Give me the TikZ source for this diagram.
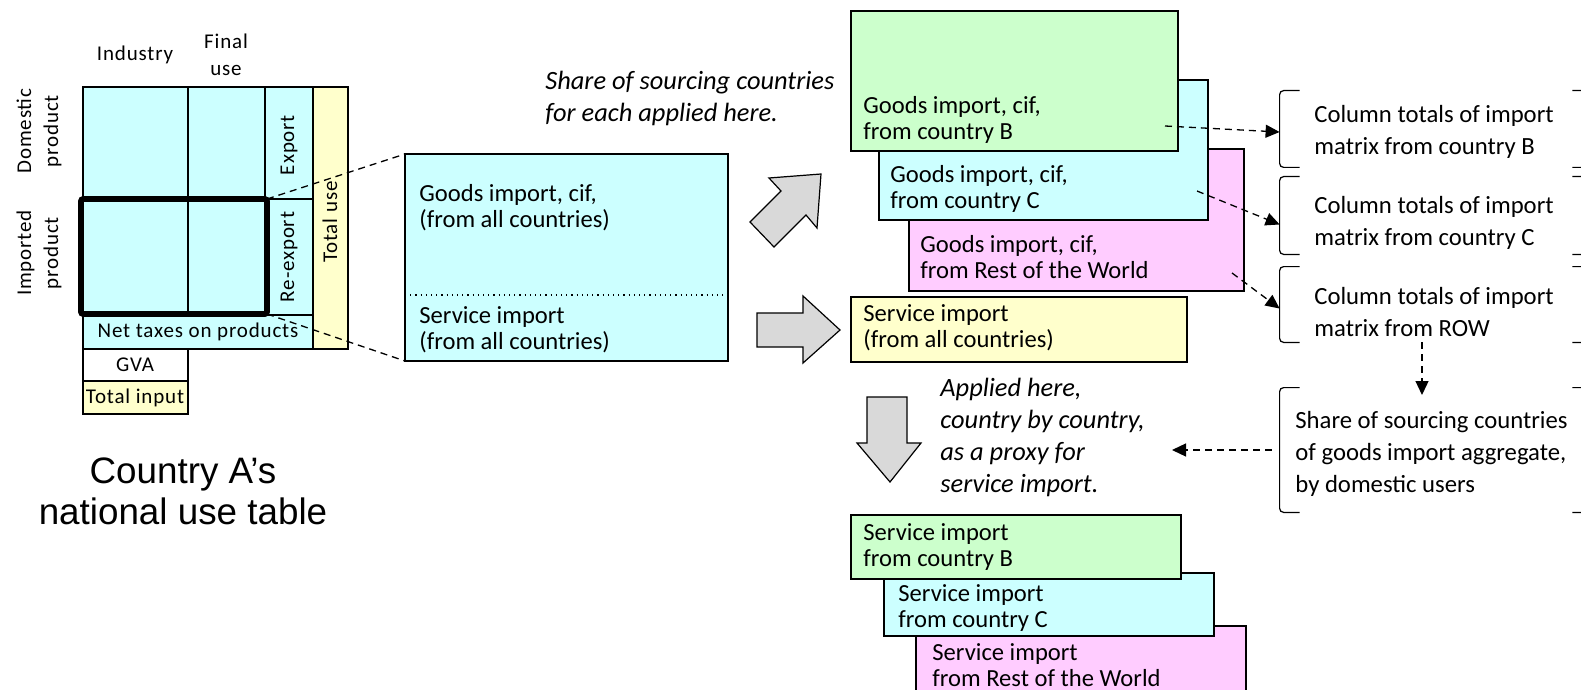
\documentclass[tikz,border=0pt]{standalone}
\usepackage{fontspec}
\setmainfont{Carlito}
\newfontfamily\capfont{Liberation Sans}
\newfontfamily\tabfont[LetterSpace=4]{Carlito}
\usetikzlibrary{arrows.meta, positioning, calc, fit}
\definecolor{cellcyan}{RGB}{204,255,255}
\definecolor{cellgreen}{RGB}{204,255,204}
\definecolor{cellpink}{RGB}{255,204,255}
\definecolor{cellyellow}{RGB}{255,255,204}
\definecolor{arrowgray}{RGB}{217,217,217}

\begin{document}
\begin{tikzpicture}[
    x=0.5pt, y=-0.5pt,
    >={Triangle[length=7pt, width=6.5pt]},
    block/.style={draw, line width=0.6pt, inner sep=0pt, outer sep=0pt},
    txt/.style={anchor=west, align=left, inner sep=0pt, font=\fontsize{12.3}{13}\selectfont},
    brtxt/.style={anchor=west, align=left, inner sep=0pt, font=\fontsize{12.35}{16}\selectfont},
    note/.style={anchor=west, align=left, inner sep=0pt, font=\fontsize{13.2}{16}\selectfont\itshape},
    tab/.style={inner sep=0pt, font=\fontsize{10.5}{13.5}\selectfont\tabfont},
    link/.style={dash pattern=on 3.5pt off 2.5pt, line width=0.65pt},
    bigarrow/.style={draw, fill=arrowgray, line width=0.6pt, line join=miter},
    brace/.style={line width=0.6pt, rounded corners=2pt},
]
    \useasboundingbox (0,0) rectangle (1581,690);
    \clip (0,0) rectangle (1581,690);

    % national use table
    \filldraw[fill=cellcyan, line width=0.6pt] (83,87) rectangle (313,349);
    \filldraw[fill=cellyellow, line width=0.6pt] (313,87) rectangle (348,349);
    \draw[line width=0.6pt] (188,87) -- (188,315) (265,87) -- (265,315)
        (83,199) -- (313,199) (83,315) -- (313,315);
    \draw[line width=0.6pt] (83,349) rectangle (188,381);
    \filldraw[fill=cellyellow, line width=0.6pt] (83,381) rectangle (188,414);
    \node[draw, line width=2.8pt, rounded corners=1pt, inner sep=0pt, outer sep=0pt,
        fit={(81,199) (267,314)}] (impBlock) {};

    \node[tab] (lInd) at (135,55) {Industry};
    \node[tab, align=center] (lFin) at (226,55) {Final\\use};
    \node[tab, align=center, rotate=90] (lDom) at (39,131) {Domestic\\product};
    \node[tab, align=center, rotate=90] (lImp) at (39,253) {Imported\\product};
    \node[tab, rotate=90] (lExp) at (289,145) {Export};
    \node[tab, rotate=90] (lReExp) at (289,257) {Re-export};
    \node[tab, rotate=90] (lTot) at (330,222) {Total use};
    \node[tab] (lTax) at (198,332) {Net taxes on products};
    \node[tab] (lGva) at (135,365) {GVA};
    \node[tab] (lTin) at (135,398) {Total input};
    \node[align=center, inner sep=0pt, font=\fontsize{18.4}{20.5}\selectfont\capfont]
        (caption) at (183,491) {Country A’s\\national use table};

    % imports from all countries
    \node[block, fill=cellcyan, fit={(405,154) (728,361)}] (allImp) {};
    \draw[dotted, line width=0.6pt] (405,295) -- (728,295);
    \node[txt] (tGoodsAll) at (419,208) {Goods import, cif,\\(from all countries)};
    \node[txt] (tServAll) at (419,330) {Service import\\(from all countries)};
    \draw[link] (impBlock.north east) -- (allImp.north west);
    \draw[link] (impBlock.south east) -- (allImp.south west);

    \node[note] (nShare) at (545,98) {Share of sourcing countries\\for each applied here.};

    % block arrows
    \filldraw[bigarrow] (750,222) -- (774,247) -- (806,215) -- (817,228) -- (821,174)
        -- (769,178) -- (781,191) -- cycle;
    \filldraw[bigarrow] (757,313) -- (803,313) -- (803,296) -- (840,330) -- (803,363)
        -- (803,347) -- (757,347) -- cycle;
    \filldraw[bigarrow] (867,397) -- (907,397) -- (907,443) -- (921,443) -- (890,482)
        -- (857,443) -- (867,443) -- cycle;

    % goods import by partner
    \node[block, fill=cellpink, fit={(909,149) (1244,291)}] (gRow) {};
    \node[txt] (tgRow) at (920,257) {Goods import, cif,\\from Rest of the World};
    \node[block, fill=cellcyan, fit={(879,80) (1208,220)}] (gC) {};
    \node[txt] (tgC) at (890,189) {Goods import, cif,\\from country C};
    \node[block, fill=cellgreen, fit={(851,11) (1178,151)}] (gB) {};
    \node[txt] (tgB) at (863,120) {Goods import, cif,\\from country B};

    \node[block, fill=cellyellow, fit={(851,297) (1187,362)}] (sAll) {};
    \node[txt] (tsAll) at (863,328) {Service import\\(from all countries)};

    \node[note] (nApplied) at (940,437)
        {Applied here,\\country by country,\\as a proxy for\\service import.};

    % service import by partner
    \node[block, fill=cellpink, fit={(916,626) (1246,720)}] (sRow) {};
    \node[txt] (tsRow) at (932,665) {Service import\\from Rest of the World};
    \node[block, fill=cellcyan, fit={(884,573) (1214,636)}] (sC) {};
    \node[txt] (tsC) at (898,608) {Service import\\from country C};
    \node[block, fill=cellgreen, fit={(851,515) (1181,579)}] (sB) {};
    \node[txt] (tsB) at (863,547) {Service import\\from country B};

    % column totals and shares
    \node[inner sep=0pt, fit={(1280,91) (1592,167)}] (cB) {};
    \node[inner sep=0pt, fit={(1280,177) (1592,254)}] (cC) {};
    \node[inner sep=0pt, fit={(1280,267) (1592,342)}] (cRow) {};
    \node[inner sep=0pt, fit={(1280,388) (1592,512)}] (share) {};
    \foreach \b in {cB, cC, cRow, share} {
        \draw[brace] ($(\b.north west)+(20,0)$) -- (\b.north west) -- (\b.south west) -- ++(20,0);
        \draw[brace] ($(\b.north east)+(-20,0)$) -- (\b.north east) -- (\b.south east) -- ++(-20,0);
    }
    \node[brtxt] (tcB) at (1314,132) {Column totals of import\\matrix from country B};
    \node[brtxt] (tcC) at (1314,223) {Column totals of import\\matrix from country C};
    \node[brtxt] (tcRow) at (1314,312) {Column totals of import\\matrix from ROW};
    \node[brtxt] (tShare) at (1295,454)
        {Share of sourcing countries\\of goods import aggregate,\\by domestic users};

    % dashed connectors
    \coordinate (fromB) at (1165,126);
    \coordinate (fromC) at (1197,191);
    \coordinate (fromRow) at (1232,273);
    \coordinate (rowOut) at (1422,342);
    \coordinate (shareIn) at (1422,395);
    \coordinate (appliedIn) at (1172,450);
    \draw[link, ->] (fromB) -- ($(cB.west)+(0,3)$);
    \draw[link, ->] (fromC) -- ($(cC.west)+(0,9)$);
    \draw[link, ->] (fromRow) -- ($(cRow.west)+(0,4)$);
    \draw[link, ->] (rowOut) -- (shareIn);
    \draw[link, ->] ($(share.west)+(-8,0)$) -- (appliedIn);
\end{tikzpicture}
\end{document}
